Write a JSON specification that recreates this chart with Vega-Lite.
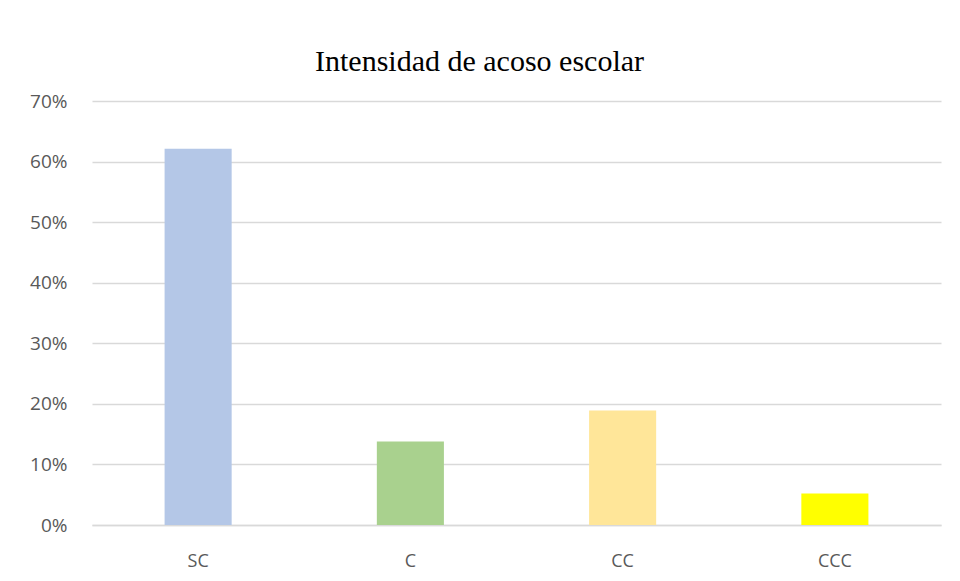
{
  "$schema": "https://vega.github.io/schema/vega-lite/v6.json",
  "autosize": "none",
  "width": 849,
  "height": 424,
  "padding": {"left": 92, "top": 101, "right": 19, "bottom": 56},
  "background": "white",
  "title": {
    "text": "Intensidad de acoso escolar",
    "font": "Liberation Serif",
    "fontSize": 30,
    "fontWeight": "normal",
    "color": "#000000",
    "anchor": "middle",
    "frame": "group",
    "dx": -37,
    "dy": 40,
    "baseline": "alphabetic",
    "offset": 31
  },
  "data": {
    "values": [
      {"cat": "SC", "pct": 0.621, "color": "#b4c7e7"},
      {"cat": "C", "pct": 0.138, "color": "#a9d18e"},
      {"cat": "CC", "pct": 0.189, "color": "#ffe699"},
      {"cat": "CCC", "pct": 0.052, "color": "#ffff00"}
    ]
  },
  "mark": {"type": "bar"},
  "encoding": {
    "x": {
      "field": "cat",
      "type": "nominal",
      "sort": null,
      "scale": {"paddingInner": 0.684, "paddingOuter": 0.342},
      "axis": {
        "title": null,
        "labelAngle": 0,
        "labelFont": "Open Sans",
        "labelFontSize": 18,
        "labelColor": "#595959",
        "labelPadding": 27,
        "ticks": false,
        "domain": true,
        "domainColor": "#d9d9d9",
        "domainWidth": 1.5,
        "grid": false
      }
    },
    "y": {
      "field": "pct",
      "type": "quantitative",
      "scale": {"domain": [0, 0.7], "nice": false},
      "axis": {
        "title": null,
        "format": ".0%",
        "values": [0, 0.1, 0.2, 0.3, 0.4, 0.5, 0.6, 0.7],
        "labelFont": "Open Sans",
        "labelFontSize": 19,
        "labelColor": "#595959",
        "labelPadding": 25,
        "ticks": false,
        "domain": false,
        "grid": true,
        "gridColor": "#d9d9d9",
        "gridWidth": 1.5
      }
    },
    "color": {"field": "color", "type": "nominal", "scale": null, "legend": null}
  },
  "config": {"view": {"stroke": null}}
}
